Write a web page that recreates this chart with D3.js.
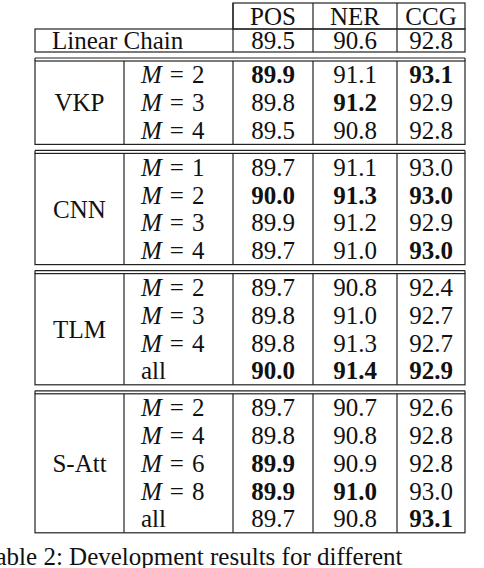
<!DOCTYPE html>
<html lang="en">
<head>
  <meta charset="UTF-8">
  <script src="https://cdn.jsdelivr.net/npm/d3@7"></script>
  <style>
    body { margin: 0; background: white; }
    text { font-family: "Liberation Serif", "DejaVu Serif", serif; font-size: 25px; fill: #111; }
    line, rect { stroke: #222; stroke-width: 1.2px; fill: none; }
  </style>
</head>
<body>
  <div class="fig"></div>
  <script>
    // ---------------- data ----------------
    const columns = ["POS", "NER", "CCG"];
    const baseline = { label: "Linear Chain", values: [89.5, 90.6, 92.8] };
    const groups = ["VKP", "CNN", "TLM", "S-Att"];
    const settings = [
      ["2", "3", "4"],
      ["1", "2", "3", "4"],
      ["2", "3", "4", "all"],
      ["2", "4", "6", "8", "all"]
    ];
    const scores = [
      [[89.9, 91.1, 93.1], [89.8, 91.2, 92.9], [89.5, 90.8, 92.8]],
      [[89.7, 91.1, 93.0], [90.0, 91.3, 93.0], [89.9, 91.2, 92.9], [89.7, 91.0, 93.0]],
      [[89.7, 90.8, 92.4], [89.8, 91.0, 92.7], [89.8, 91.3, 92.7], [90.0, 91.4, 92.9]],
      [[89.7, 90.7, 92.6], [89.8, 90.8, 92.8], [89.9, 90.9, 92.8], [89.9, 91.0, 93.0], [89.7, 90.8, 93.1]]
    ];
    const bolds = [
      [[1, 0, 1], [0, 1, 0], [0, 0, 0]],
      [[0, 0, 0], [1, 1, 1], [0, 0, 0], [0, 0, 1]],
      [[0, 0, 0], [0, 0, 0], [0, 0, 0], [1, 1, 1]],
      [[0, 0, 0], [0, 0, 0], [1, 0, 0], [1, 1, 0], [0, 0, 1]]
    ];
    const caption = "Table 2: Development results for different";

    // ---------------- layout ----------------
    const width = 484, height = 568;
    const svg = d3.select(".fig").append("svg").attr("width", width).attr("height", height);

    // column edges: label | setting | POS | NER | CCG
    const edges = [35, 124, 233, 313, 397, 465];
    const colEdge = c => [edges[2 + columns.indexOf(c)], edges[3 + columns.indexOf(c)]];
    const colMid = c => d3.mean(colEdge(c));

    const rowH = 27.8, headTop = 3, headH = 26, linH = 23, gap = 6, dbl = 3;
    const textDy = 8.5;

    // header
    svg.append("rect").attr("x", edges[2]).attr("y", headTop).attr("width", edges[5] - edges[2]).attr("height", headH);
    columns.forEach(c => {
      const [a] = colEdge(c);
      svg.append("line").attr("x1", a).attr("x2", a).attr("y1", headTop).attr("y2", headTop + headH);
      svg.append("text").attr("x", colMid(c)).attr("y", headTop + headH / 2 + textDy)
        .attr("text-anchor", "middle").text(c);
    });

    // linear chain
    const linTop = headTop + headH;
    svg.append("rect").attr("x", edges[0]).attr("y", linTop).attr("width", edges[5] - edges[0]).attr("height", linH);
    svg.append("text").attr("x", 52).attr("y", linTop + linH / 2 + textDy).text(baseline.label);
    columns.forEach((c, j) => {
      const [a] = colEdge(c);
      svg.append("line").attr("x1", a).attr("x2", a).attr("y1", linTop).attr("y2", linTop + linH);
      svg.append("text").attr("x", colMid(c)).attr("y", linTop + linH / 2 + textDy)
        .attr("text-anchor", "middle").text(baseline.values[j].toFixed(1));
    });

    // groups
    let yCursor = linTop + linH + gap;
    groups.forEach((g, gi) => {
      const rows = settings[gi];
      const inner = yCursor + dbl;
      const y = d3.scaleLinear().domain([0, rows.length]).range([inner, inner + rows.length * rowH]);
      const bottom = y(rows.length);

      svg.append("line").attr("x1", edges[0]).attr("x2", edges[5]).attr("y1", yCursor).attr("y2", yCursor);
      svg.append("rect").attr("x", edges[0]).attr("y", inner).attr("width", edges[5] - edges[0]).attr("height", bottom - inner);
      svg.append("line").attr("x1", edges[0]).attr("x2", edges[0]).attr("y1", yCursor).attr("y2", inner);
      svg.append("line").attr("x1", edges[5]).attr("x2", edges[5]).attr("y1", yCursor).attr("y2", inner);
      edges.slice(1, 5).forEach(x => {
        svg.append("line").attr("x1", x).attr("x2", x).attr("y1", inner).attr("y2", bottom);
      });

      svg.append("text").attr("x", (edges[0] + edges[1]) / 2).attr("y", (inner + bottom) / 2 + textDy)
        .attr("text-anchor", "middle").text(g);

      rows.forEach((s, ri) => {
        const cy = y(ri + 0.5) + textDy;
        const t = svg.append("text").attr("x", 141).attr("y", cy);
        if (s === "all") {
          t.text("all");
        } else {
          t.append("tspan").attr("font-style", "italic").text("M");
          t.append("tspan").attr("dx", 8).text("=");
          t.append("tspan").attr("dx", 8).text(s);
        }
        columns.forEach((c, j) => {
          svg.append("text").attr("x", colMid(c)).attr("y", cy)
            .attr("text-anchor", "middle")
            .attr("font-weight", bolds[gi][ri][j] ? "bold" : "normal")
            .text(scores[gi][ri][j].toFixed(1));
        });
      });
      yCursor = bottom + gap;
    });

    svg.append("text").attr("x", -18).attr("y", yCursor + 26).text(caption);
  </script>
</body>
</html>
